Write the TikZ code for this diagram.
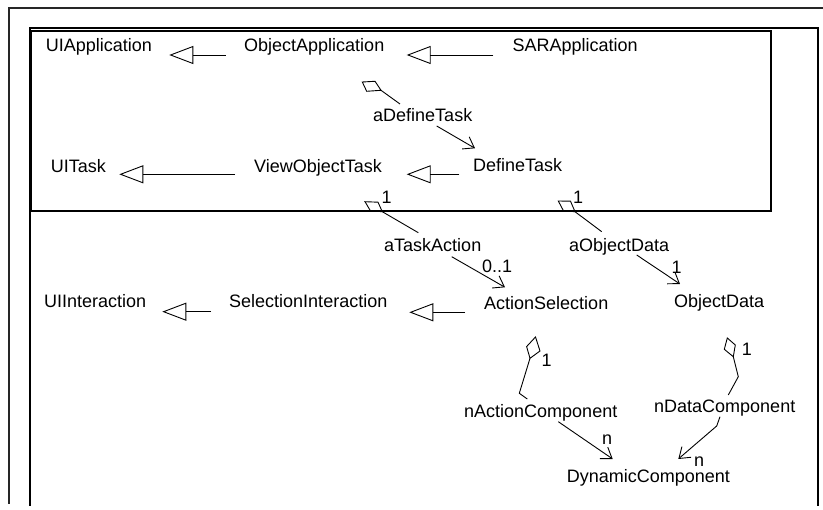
\documentclass[tikz,border=0pt]{standalone}
\usepackage{fontspec}
\setmainfont{Liberation Sans}
\usetikzlibrary{arrows.meta}
\begin{document}
\begin{tikzpicture}[x=1pt,y=-1pt,
  lbl/.style={anchor=base west, inner sep=0pt, font=\fontsize{18}{21}\selectfont},
  frameline/.style={line width=2pt, line cap=rect},
  conn/.style={line width=0.9pt},
  gen/.style={conn, -{Triangle[open,length=24pt,width=18pt]}},
  nav/.style={conn, -{Straight Barb[length=10pt,width=14pt]}},
  agg/.style={line width=0.9pt, line join=miter}]
\useasboundingbox (0,0) rectangle (823,510);

% package frames
\draw[frameline, black!85] (9,503) -- (9,8.5) -- (823,8.5);
\draw[frameline] (30,505) -- (30,28.5) -- (818,28.5) -- (818,505);
\draw[frameline] (31,31) rectangle (771,211.5);

% classes
\node[lbl] (ua)  at (45.7,51.2)  {UIApplication};
\node[lbl] (oa)  at (244,51.2)   {ObjectApplication};
\node[lbl] (sa)  at (512.3,51.2) {SARApplication};
\node[lbl] (ut)  at (50.7,172.9) {UITask};
\node[lbl] (vot) at (254,172.9)  {ViewObjectTask};
\node[lbl] (dt)  at (473,171.2)  {DefineTask};
\node[lbl] (ui)  at (44,307.9)   {UIInteraction};
\node[lbl] (si)  at (229,307.9)  {SelectionInteraction};
\node[lbl] (as)  at (484,309.6)  {ActionSelection};
\node[lbl] (od)  at (674,307.9)  {ObjectData};
\node[lbl] (dc)  at (566.7,482.9) {DynamicComponent};

% association role names
\node[lbl] (adt) at (373,121.2)  {aDefineTask};
\node[lbl] (ata) at (384,251.2)  {aTaskAction};
\node[lbl] (aod) at (569,251.2)  {aObjectData};
\node[lbl] (nac) at (464,417.9)  {nActionComponent};
\node[lbl] (ndc) at (654,412.9)  {nDataComponent};

% multiplicities
\node[lbl] (m1) at (381.3,203.5) {1};
\node[lbl] (m2) at (573,203.5)   {1};
\node[lbl] (m3) at (482,273)     {0..1};
\node[lbl] (m4) at (671.3,273.3) {1};
\node[lbl] (m5) at (541.3,367)   {1};
\node[lbl] (m6) at (741.7,356)   {1};
\node[lbl] (m7) at (602,445)     {n};
\node[lbl] (m8) at (694,466.5)   {n};

% generalization end points
\coordinate (g1s) at (225.7,55);   \coordinate (g1t) at (169.3,55);
\coordinate (g2s) at (493.3,55);   \coordinate (g2t) at (406.7,55);
\coordinate (g3s) at (235,174.3);  \coordinate (g3t) at (119.3,174.3);
\coordinate (g4s) at (459.3,174.3);\coordinate (g4t) at (406.7,174.3);
\coordinate (g5s) at (211,311.7);  \coordinate (g5t) at (162.3,311.7);
\coordinate (g6s) at (465,312.3);  \coordinate (g6t) at (409.3,312.3);

\draw[gen] (g1s) -- (g1t);
\draw[gen] (g2s) -- (g2t);
\draw[gen] (g3s) -- (g3t);
\draw[gen] (g4s) -- (g4t);
\draw[gen] (g5s) -- (g5t);
\draw[gen] (g6s) -- (g6t);

% aggregation diamonds (tip, then the other corners)
\coordinate (d1) at (381,90.3);
\draw[agg] (d1) -- (375,81.3) -- (362.3,82) -- (366.7,91.3) -- cycle;
\coordinate (d2) at (382.3,211.7);
\draw[agg] (d2) -- (378,202.2) -- (365,201.7) -- (370.5,210.9) -- cycle;
\coordinate (d3) at (575,211.7);
\draw[agg] (d3) -- (570.5,201.2) -- (558.3,201) -- (563.5,210.9) -- cycle;
\coordinate (d4) at (530,358.3);
\draw[agg] (d4) -- (540,351) -- (535.5,337) -- (526.6,346.6) -- cycle;
\coordinate (d5) at (733.3,356.7);
\draw[agg] (d5) -- (735.3,345) -- (727.3,338) -- (724.3,349.3) -- cycle;

% association ends
\coordinate (a1e) at (400,104);
\coordinate (a1s) at (436.7,126);   \coordinate (a1t) at (475,148.3);
\coordinate (a2e) at (418.3,232.7);
\coordinate (a2s) at (451.7,256.7); \coordinate (a2t) at (505,287.3);
\coordinate (a3e) at (601.7,231.7);
\coordinate (a3s) at (636.7,255);   \coordinate (a3t) at (680,284);
\coordinate (a4b) at (519.3,393.3); \coordinate (a4e) at (527.3,399);
\coordinate (a4s) at (558.3,421.7); \coordinate (a4t) at (612.7,459);
\coordinate (a5b) at (738.3,376.7); \coordinate (a5e) at (728.3,395);
\coordinate (a5s) at (720,416.7);   \coordinate (a5b2) at (716.7,426);
\coordinate (a5t) at (678.3,459);

\draw[conn] (d1) -- (a1e);
\draw[nav]  (a1s) -- (a1t);
\draw[conn] (d2) -- (a2e);
\draw[nav]  (a2s) -- (a2t);
\draw[conn] (d3) -- (a3e);
\draw[nav]  (a3s) -- (a3t);
\draw[conn] (d4) -- (a4b) -- (a4e);
\draw[nav]  (a4s) -- (a4t);
\draw[conn] (d5) -- (a5b) -- (a5e);
\draw[nav]  (a5s) -- (a5b2) -- (a5t);
\end{tikzpicture}
\end{document}
